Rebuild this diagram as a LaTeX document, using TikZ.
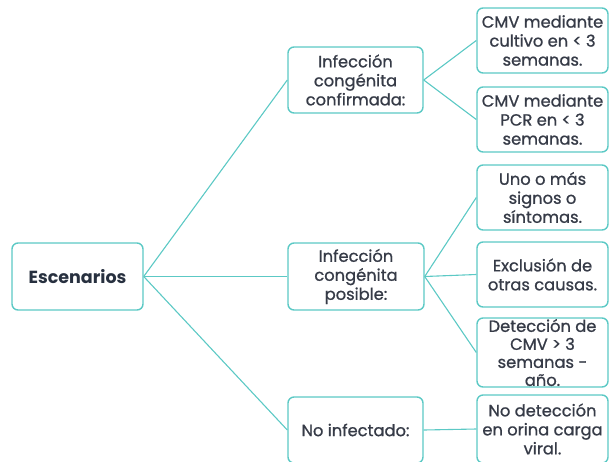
\documentclass[tikz,border=0pt]{standalone}
\usepackage{fontspec}
\setmainfont{Poppins}
\newfontfamily\bodyfont{Poppins}[FakeBold=0.9]
\definecolor{teal1}{HTML}{5CC9C5}
\definecolor{txt}{HTML}{363B47}
\definecolor{txtb}{HTML}{27303F}
\begin{document}
\begin{tikzpicture}[x=1pt,y=-1pt,
  box/.style={draw=teal1,line width=1.4pt,rounded corners=6pt,fill=white,align=center,
    text=txt,font=\bodyfont\fontsize{16.3}{19}\selectfont,inner sep=0pt},
  conn/.style={draw=teal1,line width=1.1pt}]
\useasboundingbox (0,0) rectangle (609,461);
\clip (0,0) rectangle (609,461);
\node[box,minimum width=131pt,minimum height=67pt,text=txtb,font=\fontsize{17.5}{20}\selectfont\bfseries] (esc) at (77.5,276.5) {Escenarios};
\node[box,minimum width=135pt,minimum height=66pt] (conf) at (355.5,80) {Infección\\congénita\\confirmada:};
\node[box,minimum width=136pt,minimum height=67pt] (pos) at (356,276.5) {Infección\\congénita\\posible:};
\node[box,minimum width=135pt,minimum height=66pt] (noinf) at (355.5,430) {No infectado:};
\node[box,minimum width=131pt,minimum height=65pt] (b1) at (542.5,40.5) {CMV mediante\\cultivo en < 3\\semanas.};
\node[box,minimum width=131pt,minimum height=65pt] (b2) at (542.5,119.5) {CMV mediante\\PCR en < 3\\semanas.};
\node[box,minimum width=131pt,minimum height=65pt] (b3) at (542.5,197.5) {Uno o más\\signos o\\síntomas.};
\node[box,minimum width=131pt,minimum height=65pt] (b4) at (542.5,274.5) {Exclusión de\\otras causas.};
\node[box,minimum width=131pt,minimum height=69pt,font=\bodyfont\fontsize{16.3}{18}\selectfont] (b5) at (542.5,352.5) {Detección de\\CMV > 3\\semanas -\\año.};
\node[box,minimum width=131pt,minimum height=68pt] (b6) at (542.5,429) {No detección\\en orina carga\\viral.};
\draw[conn] (esc.east) -- (conf.west);
\draw[conn] (esc.east) -- (pos.west);
\draw[conn] (esc.east) -- (noinf.west);
\draw[conn] (conf.east) -- (b1.west);
\draw[conn] (conf.east) -- (b2.west);
\draw[conn] (pos.east) -- (b3.west);
\draw[conn] (pos.east) -- (b4.west);
\draw[conn] (pos.east) -- (b5.west);
\draw[conn] (noinf.east) -- (b6.west);
\end{tikzpicture}
\end{document}
